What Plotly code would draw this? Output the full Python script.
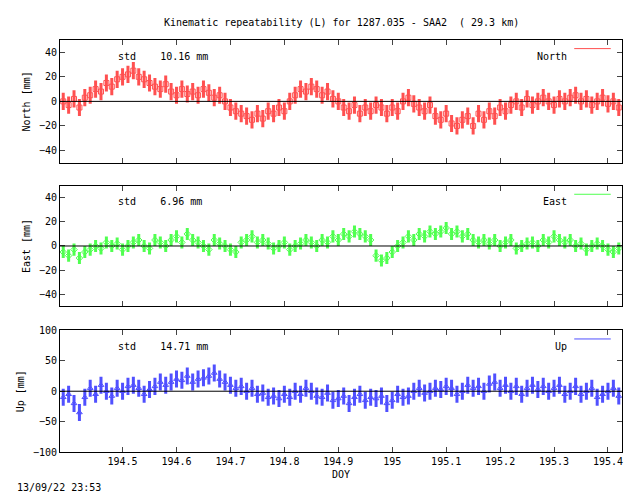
import numpy as np
import plotly.graph_objects as go

doy = np.round(np.arange(194.39, 195.425, 0.01), 2)
north = [0,-3,2,-5,3,5,10,8,15,12, 18,20,22,25,20,18,15,12,10,14, 8,5,10,6,8,5,10,7,3,5,
         0,-5,-8,-10,-12,-15,-10,-14,-8,-10, -5,-8,0,5,10,8,12,10,5,8, 2,0,-5,-8,-3,-10,-5,-8,-3,-5,
         -10,-5,-8,0,3,-2,-5,-8,-3,-12, -15,-10,-18,-20,-15,-12,-20,-10,-15,-8, -12,-5,-8,-3,0,-5,2,-3,0,3,
         0,-3,2,0,3,5,0,2,-3,0, 3,-2,0,-5]
east = [-5,-8,-3,-10,-5,-3,0,-2,3,0, 2,-3,0,3,5,0,-2,5,3,0, 5,8,3,10,5,3,0,-3,5,2,
        0,-3,-5,3,5,8,3,5,2,-2, 0,3,-3,0,2,5,3,0,5,3, 8,5,10,8,12,10,8,5,-8,-12,
        -10,-5,0,3,8,5,10,8,12,10, 12,15,10,12,8,10,5,3,5,2, 5,0,3,5,-2,0,2,3,0,5,
        3,8,5,3,5,0,2,-3,0,2, 0,-3,-5,-2]
up = [-10,-5,-20,-35,-10,5,-5,10,0,-8, 5,0,8,10,5,-5,3,8,15,10, 15,20,18,25,15,20,22,25,30,20,
      15,10,5,8,0,5,-5,-3,-10,-8, -12,-5,-10,0,-5,5,0,-8,-10,-3, -15,-12,-8,-20,-10,-5,-15,-10,-12,-8,
      -20,-15,-5,-10,-8,0,5,-3,0,5, 3,8,5,-5,0,10,5,8,0,12, 15,5,10,0,8,-5,5,10,3,8,
      0,5,10,-5,0,8,-5,0,5,-10, -5,0,5,-8]
names = ["North", "East", "Up"]
stds = ["10.16", "6.96", "14.71"]
spreads = [7, 5, 14]
colors = ["#ff5050", "#50ff50", "#5050ff"]
symbols = ["square-open", "diamond-open", "triangle-up-open"]
yranges = [[-50, 50], [-50, 50], [-100, 100]]
ytitles = ["North [mm]", "East [mm]", "Up [mm]"]
xticks = [194.5, 194.6, 194.7, 194.8, 194.9, 195.0, 195.1, 195.2, 195.3, 195.4]
xticklabels = ["194.5", "194.6", "194.7", "194.8", "194.9", "195", "195.1", "195.2", "195.3", "195.4"]

font = dict(family="DejaVu Sans Mono", size=10, color="black")
fig = go.Figure()
domains = [[0.702, 1.0], [0.354, 0.646], [0.0, 0.295]]
for i, ys in enumerate([north, east, up]):
    n = i + 1
    xa = "x" if n == 1 else f"x{n}"
    ya = "y" if n == 1 else f"y{n}"
    fig.add_shape(type="line", xref=f"{xa} domain", yref=ya, x0=0, x1=1, y0=0, y1=0, line=dict(color="black", width=1), layer="above")
    fig.add_trace(go.Scatter(x=doy, y=ys, mode="markers", xaxis=xa, yaxis=ya, showlegend=False,
                             marker=dict(symbol=symbols[i], size=5, color=colors[i], line=dict(width=1, color=colors[i])),
                             error_y=dict(type="constant", value=spreads[i], color=colors[i], width=0, thickness=3)))
    fig.layout[f"xaxis{'' if n==1 else n}"] = dict(domain=[0, 1], anchor=ya, range=[194.384, 195.426],
        tickvals=xticks, ticktext=xticklabels, ticks="inside", mirror="ticks", showline=True, linecolor="black",
        showgrid=False, zeroline=False, showticklabels=(n == 3), tickfont=font,
        title=dict(text="DOY", font=font, standoff=4) if n == 3 else None)
    fig.layout[f"yaxis{'' if n==1 else n}"] = dict(domain=domains[i], anchor=xa, range=yranges[i],
        ticks="inside", mirror="ticks", showline=True, linecolor="black", showgrid=False, zeroline=False,
        tickfont=font, dtick=20 if n < 3 else 50, title=dict(text=ytitles[i], font=font, standoff=6))
    fig.add_annotation(xref=f"{xa} domain", yref=f"{ya} domain", x=0.1, y=0.93, showarrow=False,
                       text=f"std    {stds[i]} mm", font=font, xanchor="left")
    fig.add_annotation(xref=f"{xa} domain", yref=f"{ya} domain", x=0.905, y=0.93, showarrow=False,
                       text=names[i], font=font, xanchor="right")
    fig.add_shape(type="line", xref=f"{xa} domain", yref=f"{ya} domain", x0=0.915, x1=0.98, y0=0.93, y1=0.93,
                  line=dict(color=colors[i], width=1))

fig.add_annotation(xref="paper", yref="paper", x=0.5, y=1.06, showarrow=False,
                   text="Kinematic repeatability (L) for 1287.035 - SAA2  ( 29.3 km)", font=font)
fig.add_annotation(xref="paper", yref="paper", x=-0.08, y=-0.085, showarrow=False, xanchor="left", yanchor="middle",
                   text="13/09/22 23:53", font=font)
fig.update_layout(width=640, height=496, margin=dict(l=50, r=26, t=32, b=52),
                  paper_bgcolor="white", plot_bgcolor="white", font=font)
fig.write_html("out.html")
